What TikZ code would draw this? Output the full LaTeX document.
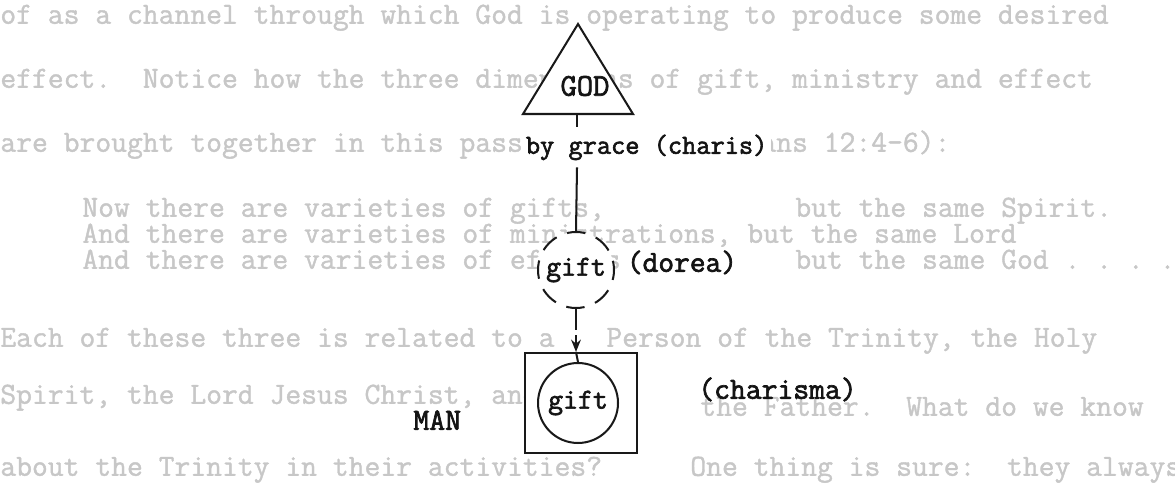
\documentclass[tikz,border=0pt]{standalone}
\usepackage{fontspec}
\newfontfamily\bgfont{Latin Modern Mono}[FakeBold=1.2]
\newfontfamily\diagfont{Latin Modern Mono}[FakeBold=2.2]
\usetikzlibrary{arrows.meta}
\begin{document}
\begin{tikzpicture}[x=0.02cm,y=-0.02cm,
  bg/.style={anchor=mid west, inner sep=0pt, text=black!22,
    font=\bgfont\fontsize{17.5}{17.5}\selectfont},
  lbl/.style={inner sep=0pt, text=black!92,
    font=\diagfont\fontsize{#1}{#1}\selectfont},
  ln/.style={line width=1.15pt, draw=black!90},
  dcirc/.style={circle, ln, fill=white, minimum size=1.52cm,
    dash pattern=on 10.5pt off 6.42pt, dash phase=5.25pt},
  scirc/.style={circle, ln, minimum size=1.6cm},
  boxsq/.style={rectangle, ln, fill=white, minimum width=2.24cm, minimum height=2.0cm, inner sep=0pt},
  darrow/.style={ln, dash pattern=on 12pt off 3pt, -{Stealth[length=7pt,width=5.5pt]}},
]
\useasboundingbox[fill=white] (0,0) rectangle (1175,499);

% faded page text
\node[bg] (t1) at (0,20) {of as a channel through which God is operating to produce some desired};
\node[bg] (t2) at (0,84) {effect.~~Notice how the three dimensions of gift, ministry and effect};
\node[bg] (t3) at (0,148) {are brought together in this passage (I Corinthians 12:4-6):};
\node[bg] (t4a) at (82,213) {Now there are varieties of gifts,};
\node[bg] (t4b) at (795,213) {but the same Spirit.};
\node[bg] (t5) at (82,239) {And there are varieties of ministrations, but the same Lord};
\node[bg] (t6a) at (82,265) {And there are varieties of effects,};
\node[bg] (t6b) at (795,265) {but the same God~.~.~.~.};
\node[bg] (t7a) at (0,343) {Each of these three is related to a};
\node[bg] (t7b) at (606,343) {Person of the Trinity, the Holy};
\node[bg] (t8a) at (0,400) {Spirit, the Lord Jesus Christ, and God};
\node[bg] (t8b) at (700,412) {the Father.~~What do we know};
\node[bg] (t9a) at (0,472) {about the Trinity in their activities?};
\node[bg] (t9b) at (690,472) {One thing is sure:~~they always};

% diagram
\coordinate (apex) at (578,24);
\coordinate (bl) at (523,114);
\coordinate (br) at (633,114);
\coordinate (godbase) at (577,114);
\draw[ln, fill=white] (apex) -- (br) -- (bl) -- cycle;
\node[lbl=18] (god) at (585,86) {GOD};

\node[lbl=15.7, anchor=mid west, inner ysep=4pt, inner xsep=2pt, fill=white] (grace) at (522,150) {by grace (charis)};
\node[dcirc, lbl=16.5] (gift1) at (576,270) {gift};
\node[lbl=17.4, anchor=mid west, fill=white, inner xsep=2pt, inner ysep=2pt] (dorea) at (623,268) {(dorea)};

\draw[ln] (godbase) -- (godbase |- grace.north);
\draw[ln] (godbase |- grace.south) -- (gift1.north);

\node[boxsq] (box) at (581,403) {};
\node[scirc, lbl=16.5] (gift2) at (578,403) {gift};
\coordinate (boxtop) at (gift1.south |- box.north);
\draw[darrow] (gift1.south) -- (boxtop);
\draw[ln] (boxtop) -- (gift2.north);

\node[lbl=17.5, anchor=mid west] (charisma) at (698,395) {(charisma)};
\node[lbl=17.6, anchor=mid west] (man) at (413,426) {MAN};
\end{tikzpicture}
\end{document}
